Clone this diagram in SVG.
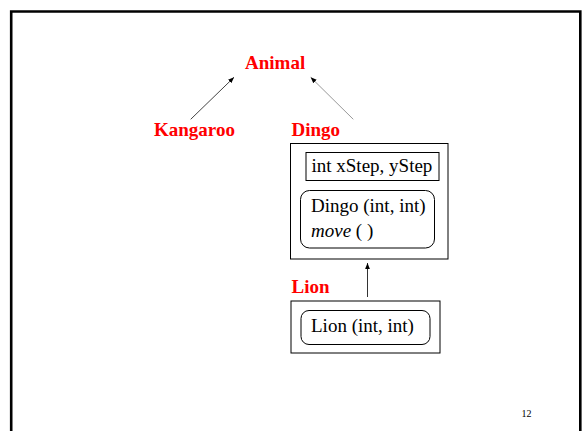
<svg xmlns="http://www.w3.org/2000/svg" width="585" height="431" viewBox="0 0 585 431">
<defs>
<style>
text{font-family:'Liberation Serif',serif}
.lbl{font-weight:bold;font-size:19px;fill:#ff0000}
.txt{font-size:19px;fill:#000}
.box{fill:#fff;stroke:#000;stroke-width:1}
.conn{stroke-width:1;fill:none}
</style>
<marker id="ah" viewBox="0 0 10 10" refX="10" refY="5" markerWidth="6" markerHeight="6" orient="auto" markerUnits="userSpaceOnUse">
<path d="M0,1 L10,5 L0,9 z" fill="#000"/>
</marker>
</defs>
<rect width="585" height="431" fill="#fff"/>
<path d="M11.2,440 V11.5 H580.3 V440" fill="none" stroke="#000" stroke-width="2.6"/>
<g id="connectors">
<line class="conn" x1="190.7" y1="119.3" x2="234" y2="77.3" stroke="#444" marker-end="url(#ah)"/>
<line class="conn" x1="353.3" y1="119.3" x2="310.7" y2="77.3" stroke="#999" marker-end="url(#ah)"/>
<line class="conn" x1="367.5" y1="297" x2="367.5" y2="263" stroke="#333" marker-end="url(#ah)"/>
</g>
<g id="animal"><text class="lbl" x="245" y="69">Animal</text></g>
<g id="kangaroo"><text class="lbl" x="154" y="136">Kangaroo</text></g>
<g id="dingo">
<text class="lbl" x="291.5" y="136">Dingo</text>
<rect class="box" x="290.5" y="143.5" width="157.5" height="115.5"/>
<rect class="box" x="306" y="152.5" width="133" height="28"/>
<text class="txt" x="311.5" y="171.7">int xStep, yStep</text>
<rect class="box" x="300.5" y="190.5" width="134" height="57.5" rx="9"/>
<text class="txt" x="311" y="212.3">Dingo (int, int)</text>
<text class="txt" x="311" y="236.7"><tspan font-style="italic">move</tspan> ( )</text>
</g>
<g id="lion">
<text class="lbl" x="291.5" y="293.3">Lion</text>
<rect class="box" x="291" y="301" width="149" height="52"/>
<rect class="box" x="301" y="310.5" width="129" height="34" rx="8"/>
<text class="txt" x="311" y="331.5">Lion (int, int)</text>
</g>
<text x="521.5" y="416.7" font-size="10" fill="#000">12</text>
</svg>
